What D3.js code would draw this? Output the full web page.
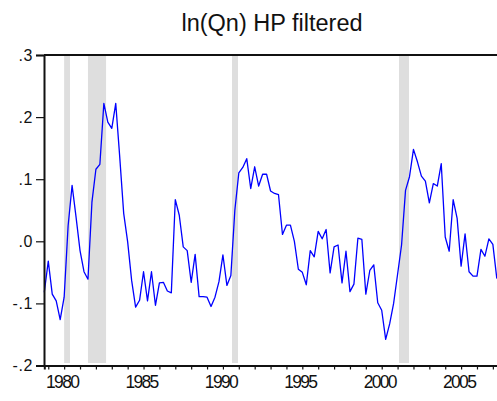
<!DOCTYPE html>
<html>
<head>
<meta charset="utf-8">
<script src="https://cdn.jsdelivr.net/npm/d3@7"></script>
<style>
  body { margin: 0; background: #fff; }
  svg { display: block; }
</style>
</head>
<body>
<div id="chart"></div>
<script>
// chart size
const width = 497;
const height = 401;
const margin = { top: 55, right: -3, bottom: 35.5, left: 44 };

// quarterly series, first observation 1978Q4
const startYear = 1978;
const startQuarter = 4;
const values = [
  -0.082, -0.032, -0.085, -0.096, -0.126, -0.090, 0.025, 0.090, 0.039, -0.015,
  -0.049, -0.061, 0.063, 0.116, 0.124, 0.222, 0.192, 0.182, 0.222, 0.136,
  0.045, -0.001, -0.063, -0.106, -0.095, -0.049, -0.096, -0.049, -0.103, -0.067,
  -0.066, -0.080, -0.083, 0.067, 0.042, -0.009, -0.015, -0.066, -0.021, -0.089,
  -0.089, -0.090, -0.105, -0.090, -0.065, -0.022, -0.071, -0.055, 0.050, 0.110,
  0.119, 0.133, 0.085, 0.120, 0.089, 0.108, 0.108, 0.081, 0.077, 0.075,
  0.011, 0.026, 0.026, 0.000, -0.045, -0.050, -0.070, -0.015, -0.025, 0.016,
  0.004, 0.019, -0.051, -0.009, -0.006, -0.067, -0.016, -0.081, -0.069, 0.005,
  0.003, -0.085, -0.047, -0.038, -0.099, -0.111, -0.158, -0.133, -0.100, -0.053,
  -0.006, 0.082, 0.104, 0.148, 0.128, 0.105, 0.097, 0.062, 0.093, 0.089,
  0.125, 0.007, -0.016, 0.067, 0.037, -0.040, 0.012, -0.049, -0.056, -0.056,
  -0.013, -0.024, 0.004, -0.005, -0.060
];

// shaded recession periods (decimal years)
const recessionStart = [1980.0, 1981.5, 1990.57, 2001.09];
const recessionEnd = [1980.37, 1982.64, 1990.95, 2001.72];

// axis ticks
const yTicks = [0.3, 0.2, 0.1, 0.0, -0.1, -0.2];
const yTickLabels = [".3", ".2", ".1", ".0", "-.1", "-.2"];
const xMinorTicks = d3.range(1979, 2008);
const xTickLabels = [1980, 1985, 1990, 1995, 2000, 2005];

const title = "ln(Qn) HP filtered";

const data = values.map((v, i) => ({
  t: startYear + (startQuarter - 1) / 4 + i / 4,
  v: v
}));

const svg = d3.select('#chart')
  .append('svg')
  .attr('width', width)
  .attr('height', height);

svg.append('rect')
  .attr('width', width)
  .attr('height', height)
  .attr('fill', '#fff');

const xScale = d3.scaleLinear()
  .domain([1978.75, 2007.45])
  .range([margin.left + 0.3, width - margin.right]);

const yScale = d3.scaleLinear()
  .domain([-0.2, 0.3])
  .range([height - margin.bottom, margin.top]);

// recession bars
svg.selectAll('.rec')
  .data(recessionStart)
  .enter().append('rect')
  .attr('class', 'rec')
  .attr('x', (d, i) => xScale(d))
  .attr('width', (d, i) => xScale(recessionEnd[i]) - xScale(d))
  .attr('y', yScale(0.3))
  .attr('height', yScale(-0.2) - yScale(0.3) - 2.5)
  .attr('fill', '#dedede');

// series line
const line = d3.line()
  .x(d => xScale(d.t))
  .y(d => yScale(d.v));

svg.append('path')
  .datum(data)
  .attr('d', line)
  .attr('fill', 'none')
  .attr('stroke', '#0000ff')
  .attr('stroke-width', 1.3)
  .attr('stroke-linejoin', 'round');

// y axis
const yAxis = d3.axisLeft(yScale)
  .tickValues(yTicks)
  .tickFormat((d, i) => yTickLabels[i])
  .tickSize(8)
  .tickPadding(3);

const gy = svg.append('g')
  .attr('transform', `translate(${margin.left},0)`)
  .call(yAxis);
gy.select('.domain').attr('stroke', '#111').attr('stroke-width', 2);
gy.selectAll('.tick line').attr('stroke', '#111').attr('stroke-width', 1.2);
gy.selectAll('.tick text')
  .attr('font-family', 'Liberation Sans, Arial, sans-serif')
  .attr('font-size', 16)
  .attr('letter-spacing', 0.6)
  .attr('fill', '#111');

// x axis
const xAxis = d3.axisBottom(xScale)
  .tickValues(xMinorTicks)
  .tickFormat(d => xTickLabels.includes(d) ? d : '')
  .tickSize(4)
  .tickPadding(6);

const gx = svg.append('g')
  .attr('transform', `translate(0,${height - margin.bottom})`)
  .call(xAxis);
gx.select('.domain').attr('stroke', '#111').attr('stroke-width', 2);
gx.selectAll('.tick line').attr('stroke', '#111').attr('stroke-width', 1.2);
gx.selectAll('.tick text')
  .attr('font-family', 'Liberation Sans, Arial, sans-serif')
  .attr('font-size', 17.5)
  .attr('letter-spacing', -1.7)
  .attr('dx', -2.5)
  .attr('fill', '#111');

// top frame line
svg.append('line')
  .attr('x1', margin.left)
  .attr('x2', width)
  .attr('y1', yScale(0.3))
  .attr('y2', yScale(0.3))
  .attr('stroke', '#111')
  .attr('stroke-width', 2);

// title
svg.append('text')
  .attr('x', 272)
  .attr('y', 31)
  .attr('text-anchor', 'middle')
  .attr('font-family', 'Liberation Sans, Arial, sans-serif')
  .attr('font-size', 23.5)
  .attr('fill', '#111')
  .text(title);
</script>
</body>
</html>
